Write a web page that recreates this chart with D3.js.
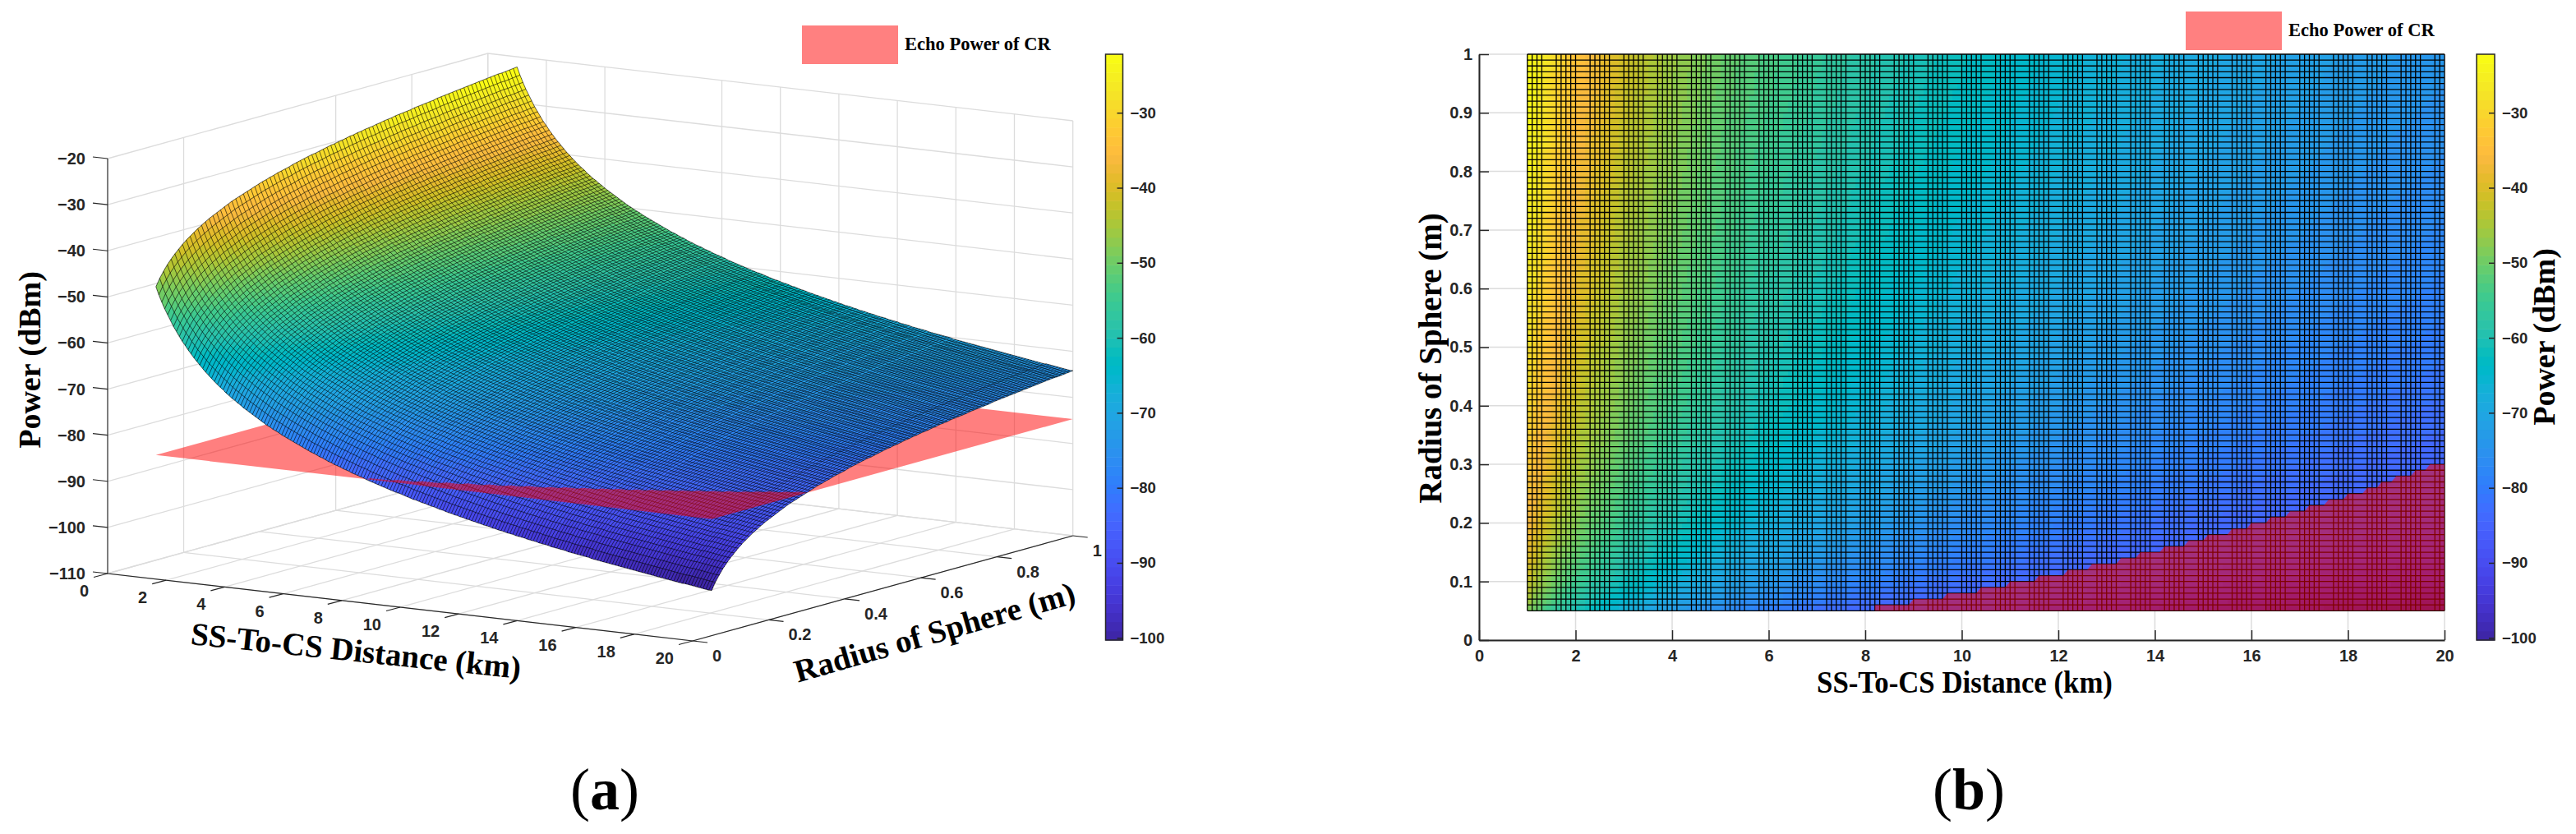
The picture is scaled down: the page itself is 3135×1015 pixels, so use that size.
<!DOCTYPE html>
<html>
<head>
<meta charset="utf-8">
<script src="https://cdn.jsdelivr.net/npm/d3@7"></script>
<style>
body { margin: 0; background: #fff; }
svg { display: block; }
.tick text, .lab { font-family: "Liberation Sans", Arial, sans-serif; font-weight: bold; fill: #262626; font-size: 20px; }
.bar .tick text { font-size: 18.5px; }
.ttl { font-family: "Liberation Serif", "Times New Roman", serif; font-weight: bold; fill: #000; }
</style>
</head>
<body>
<svg id="fig" width="3135" height="1015"></svg>
<script>
// power (dBm) at radius 1 m, read per mesh column: distance 1.0 km to 20.0 km, 0.1 km apart
var powerAtDistance = [
-22.2,-23.9,-25.4,-26.8,-28.0,-29.2,-30.4,-31.4,-32.4,-33.4,
-34.2,-35.1,-35.9,-36.7,-37.4,-38.1,-38.8,-39.5,-40.1,-40.7,
-41.3,-41.9,-42.4,-42.9,-43.5,-44.0,-44.5,-44.9,-45.4,-45.8,
-46.3,-46.7,-47.1,-47.5,-47.9,-48.3,-48.7,-49.1,-49.5,-49.8,
-50.2,-50.5,-50.8,-51.2,-51.5,-51.8,-52.1,-52.4,-52.7,-53.0,
-53.3,-53.6,-53.9,-54.2,-54.4,-54.7,-55.0,-55.2,-55.5,-55.8,
-56.0,-56.3,-56.5,-56.7,-57.0,-57.2,-57.4,-57.7,-57.9,-58.1,
-58.3,-58.5,-58.8,-59.0,-59.2,-59.4,-59.6,-59.8,-60.0,-60.2,
-60.4,-60.6,-60.8,-60.9,-61.1,-61.3,-61.5,-61.7,-61.9,-62.0,
-62.2,-62.4,-62.5,-62.7,-62.9,-63.0,-63.2,-63.4,-63.5,-63.7,
-63.9,-64.0,-64.2,-64.3,-64.5,-64.6,-64.8,-64.9,-65.1,-65.2,
-65.4,-65.5,-65.7,-65.8,-65.9,-66.1,-66.2,-66.4,-66.5,-66.6,
-66.8,-66.9,-67.0,-67.2,-67.3,-67.4,-67.5,-67.7,-67.8,-67.9,
-68.0,-68.2,-68.3,-68.4,-68.5,-68.7,-68.8,-68.9,-69.0,-69.1,
-69.2,-69.4,-69.5,-69.6,-69.7,-69.8,-69.9,-70.0,-70.1,-70.3,
-70.4,-70.5,-70.6,-70.7,-70.8,-70.9,-71.0,-71.1,-71.2,-71.3,
-71.4,-71.5,-71.6,-71.7,-71.8,-71.9,-72.0,-72.1,-72.2,-72.3,
-72.4,-72.5,-72.6,-72.7,-72.8,-72.9,-73.0,-73.1,-73.2,-73.3,
-73.4,-73.4,-73.5,-73.6,-73.7,-73.8,-73.9,-74.0,-74.1,-74.2,
-74.2];

// drop in power (dB) per mesh row: radius 0.05 m to 1.00 m, 0.01 m apart
var radiusDrop = [
-26.0,-24.4,-23.1,-21.9,-20.9,-20.0,-19.2,-18.4,-17.7,-17.1,
-16.5,-15.9,-15.4,-14.9,-14.4,-14.0,-13.6,-13.2,-12.8,-12.4,
-12.0,-11.7,-11.4,-11.1,-10.8,-10.5,-10.2,-9.9,-9.6,-9.4,
-9.1,-8.9,-8.6,-8.4,-8.2,-8.0,-7.7,-7.5,-7.3,-7.1,
-6.9,-6.7,-6.6,-6.4,-6.2,-6.0,-5.8,-5.7,-5.5,-5.4,
-5.2,-5.0,-4.9,-4.7,-4.6,-4.4,-4.3,-4.2,-4.0,-3.9,
-3.7,-3.6,-3.5,-3.3,-3.2,-3.1,-3.0,-2.9,-2.7,-2.6,
-2.5,-2.4,-2.3,-2.2,-2.0,-1.9,-1.8,-1.7,-1.6,-1.5,
-1.4,-1.3,-1.2,-1.1,-1.0,-0.9,-0.8,-0.7,-0.6,-0.5,
-0.4,-0.4,-0.3,-0.2,-0.1,0];

var echoPowerCR = -84.7; // the flat red plane

var distTicks = [0,2,4,6,8,10,12,14,16,18,20];
var radiusTicks = [0,0.2,0.4,0.6,0.8,1];
var radiusTicksB = [0,0.1,0.2,0.3,0.4,0.5,0.6,0.7,0.8,0.9,1];
var powerTicks = [-110,-100,-90,-80,-70,-60,-50,-40,-30,-20];
var barTicks = [-100,-90,-80,-70,-60,-50,-40,-30];
var colorRange = [-100.3,-22.2];

// parula, 64 steps
var parula = ["#3e26a8","#402aB4","#422EC0","#4532CB","#4537D5","#463CDE","#4741E5","#4747EB","#484DF0","#4752F4","#4758F8","#465DFB","#4563FD","#4269FE","#3E6FFF","#3875FE","#327BFC","#2F81FA","#2D87F7","#2D8CF3","#2B91EF","#2796EB","#259BE7","#23A0E5","#20A5E3","#1CA9DF","#18ADDB","#12B1D6","#08B5D0","#01B8CA","#02BAC3","#0BBDBC","#19BFB6","#24C1AE","#2CC3A7","#31C69F","#37C897","#3FCA8E","#4ACB84","#57CC7A","#64CD6F","#71CC64","#80CC59","#8FCA4E","#9DC943","#ABC739","#B8C431","#C5C22A","#D1BF27","#DCBD29","#E6BB2D","#EFBA36","#F8BA3D","#FEBE3C","#FEC338","#FEC934","#FCCF30","#F9D62D","#F7DC2A","#F5E327","#F5E924","#F6EF20","#F7F51B","#F9FB15"];

var rowRadii = radiusDrop.map(function(d, j){ return +(0.05 + j*0.01).toFixed(2); });
var colDists = powerAtDistance.map(function(d, i){ return +(1 + i*0.1).toFixed(1); });

var color = d3.scaleQuantize().domain(colorRange).range(parula);
var svg = d3.select("#fig");

function power(i, j){ return powerAtDistance[i] + radiusDrop[j]; }

// outline of the part of the plane that lies above the surface, as [dist, radius]
function planeAbove(){
    var pts = [];
    for(var i = 0; i<colDists.length; i++){
        var j = 0;
        while(j < rowRadii.length && power(i, j) < echoPowerCR) j++;
        if(j > 0) pts.push([colDists[i], rowRadii[j]]);
    }
    pts.unshift([pts[0][0], rowRadii[0]]);
    pts.push([colDists[colDists.length-1], rowRadii[0]]);
    return pts;
}

// draws filled cells and mesh through project(dist, radius, power)
function drawSurface(g, project, keepCol, meshWidth){
    var byColor = parula.map(function(){ return []; });
    for(var i = 0; i<colDists.length-1; i++){
        for(var j = 0; j<rowRadii.length-1; j++){
            var a = project(colDists[i], rowRadii[j], power(i,j)),
                b = project(colDists[i+1], rowRadii[j], power(i+1,j)),
                c = project(colDists[i+1], rowRadii[j+1], power(i+1,j+1)),
                e = project(colDists[i], rowRadii[j+1], power(i,j+1));
            var k = parula.indexOf(color(power(i,j)));
            byColor[k].push("M"+a[0].toFixed(1)+","+a[1].toFixed(1)+"L"+b[0].toFixed(1)+","+b[1].toFixed(1)+"L"+c[0].toFixed(1)+","+c[1].toFixed(1)+"L"+e[0].toFixed(1)+","+e[1].toFixed(1)+"Z");
        }
    }
    g.selectAll("path.cells").data(parula).enter().append("path")
        .attr("class", "cells")
        .attr("d", function(c, k){ return byColor[k].join(""); })
        .attr("fill", function(c){ return c; })
        .attr("shape-rendering", "crispEdges");

    var line = d3.line();
    var mesh = g.append("g").attr("fill", "none").attr("stroke", "#000").attr("stroke-width", meshWidth);
    colDists.forEach(function(d, i){
        if(!keepCol(i) && i != colDists.length-1) return;
        mesh.append("path").attr("d", line(rowRadii.map(function(r, j){ return project(d, r, power(i,j)); })));
    });
    rowRadii.forEach(function(r, j){
        mesh.append("path").attr("d", line(colDists.map(function(d, i){ return project(d, r, power(i,j)); })));
    });
}

function colorbar(x, width, y){
    var g = svg.append("g").attr("transform", "translate("+x+",0)");
    g.selectAll("rect").data(parula).enter().append("rect")
        .attr("x", 0).attr("width", width)
        .attr("y", function(c){ return y(color.invertExtent(c)[1]); })
        .attr("height", function(c){ var e = color.invertExtent(c); return y(e[0]) - y(e[1]) + 0.5; })
        .attr("fill", function(c){ return c; });
    g.append("rect").attr("width", width).attr("y", y.range()[1]).attr("height", y.range()[0]-y.range()[1])
        .attr("fill", "none").attr("stroke", "#262626").attr("stroke-width", 1.5);
    var ax = svg.append("g").attr("class", "bar").attr("transform", "translate("+(x+width)+",0)")
        .call(d3.axisRight(y).tickValues(barTicks).tickSizeInner(-7).tickSizeOuter(0).tickPadding(9)
            .tickFormat(function(d){ return "\u2212"+Math.abs(d); }));
    ax.select(".domain").remove();
    ax.selectAll("line").attr("stroke", "#262626").attr("stroke-width", 1.5);
}

function legend(x, y){
    svg.append("rect").attr("x", x).attr("y", y).attr("width", 117).attr("height", 47).attr("fill", "#ff8080");
    svg.append("text").attr("class", "ttl").attr("x", x+125).attr("y", y+30).attr("font-size", 22.5).text("Echo Power of CR");
}

function title(txt, x, y, size, rot, sx){
    svg.append("text").attr("class", "ttl").attr("text-anchor", "middle").attr("font-size", size)
        .attr("transform", "translate("+x+","+y+") rotate("+rot+") scale("+(sx || 1)+",1)").text(txt);
}

// ---------- panel (a) ----------
var dX = d3.scaleLinear().domain([0,20]).range([131,843]),
    dY = d3.scaleLinear().domain([0,20]).range([698,780]),
    rX = d3.scaleLinear().domain([0,1]).range([0,462.7]),
    rY = d3.scaleLinear().domain([0,1]).range([0,-128]),
    pY = d3.scaleLinear().domain([-110,-20]).range([0,-505]);

function proj(d, r, p){ return [dX(d)+rX(r), dY(d)+rY(r)+pY(p)]; }

var a = svg.append("g");
var gridLine = d3.line();
var pLow = powerTicks[0], pTop = powerTicks[powerTicks.length-1];
var grid = a.append("g").attr("fill", "none").attr("stroke", "#dcdcdc").attr("stroke-width", 1.3);

powerTicks.forEach(function(p){
    grid.append("path").attr("d", gridLine([proj(0,0,p), proj(0,1,p), proj(20,1,p)]));
});
radiusTicks.forEach(function(r){
    grid.append("path").attr("d", gridLine([proj(0,r,pLow), proj(20,r,pLow)]));
    // the r=0.4 wall line does not show in the reference
    if(r > 0 && r != 0.4) grid.append("path").attr("d", gridLine([proj(0,r,pLow), proj(0,r,pTop)]));
});
distTicks.forEach(function(d){
    grid.append("path").attr("d", gridLine([proj(d,0,pLow), proj(d,1,pLow)]));
    // same for d=6 on the back wall
    if(d != 6) grid.append("path").attr("d", gridLine([proj(d,1,pLow), proj(d,1,pTop)]));
});

// plane goes under the surface, the piece above it goes on top
var closedLine = d3.line().curve(d3.curveLinearClosed);
a.append("path")
    .attr("d", closedLine([proj(1,0.05,echoPowerCR), proj(20,0.05,echoPowerCR), proj(20,1,echoPowerCR), proj(1,1,echoPowerCR)]))
    .attr("fill", "#f00").attr("fill-opacity", 0.5);

drawSurface(a.append("g"), proj, function(){ return true; }, 0.6);

var above = planeAbove();
a.append("path")
    .attr("d", closedLine(above.map(function(q){ return proj(q[0], q[1], echoPowerCR); })))
    .attr("fill", "#f00").attr("fill-opacity", 0.5);

var box = a.append("g").attr("fill", "none").attr("stroke", "#262626").attr("stroke-width", 1.2);
box.append("path").attr("d", gridLine([proj(0,0,pTop), proj(0,0,pLow), proj(20,0,pLow), proj(20,1,pLow)]));
powerTicks.forEach(function(p){
    var q = proj(0,0,p);
    box.append("path").attr("d", gridLine([q, [q[0]-18, q[1]-2]]));
    a.append("text").attr("class", "lab").attr("text-anchor", "end").attr("x", q[0]-27).attr("y", q[1]+7)
        .text(p < 0 ? "\u2212"+Math.abs(p) : p);
});
distTicks.forEach(function(d){
    var q = proj(d,0,pLow);
    box.append("path").attr("d", gridLine([q, [q[0]-17, q[1]+4.5]]));
    a.append("text").attr("class", "lab").attr("text-anchor", "end").attr("x", q[0]-23).attr("y", q[1]+28).text(d);
});
radiusTicks.forEach(function(r){
    var q = proj(20,r,pLow);
    box.append("path").attr("d", gridLine([q, [q[0]+18, q[1]+2]]));
    a.append("text").attr("class", "lab").attr("x", q[0]+24).attr("y", q[1]+25).text(r);
});

title("Power (dBm)", 49, 438, 38, -90);
title("SS-To-CS Distance (km)", 432, 805, 39, 6);
title("Radius of Sphere (m)", 1141, 782, 39, -16);
legend(976, 31);

var barYa = d3.scaleLinear().domain(colorRange).range([779,66]);
colorbar(1345.5, 21, barYa);

// ---------- panel (b) ----------
var xB = d3.scaleLinear().domain([0,20]).range([1800,2975]),
    yB = d3.scaleLinear().domain([0,1]).range([779,66]);

function projB(d, r){ return [xB(d), yB(r)]; }

var b = svg.append("g");
var gridB = b.append("g").attr("stroke", "#dcdcdc").attr("stroke-width", 1.5);
distTicks.forEach(function(d){
    gridB.append("line").attr("x1", xB(d)).attr("x2", xB(d)).attr("y1", yB(0)).attr("y2", yB(1));
});
radiusTicksB.forEach(function(r){
    gridB.append("line").attr("x1", xB(0)).attr("x2", xB(20)).attr("y1", yB(r)).attr("y2", yB(r));
});

// every 7 lines two are lost in the reference raster
drawSurface(b.append("g"), projB, function(i){ return i%7 != 4 && i%7 != 5; }, 1.3);

var fmtB = function(d){ return String(d); };
var axB = b.append("g").attr("transform", "translate(0,779)")
    .call(d3.axisBottom(xB).tickValues(distTicks).tickSizeInner(-12).tickSizeOuter(0).tickPadding(12).tickFormat(fmtB));
var ayB = b.append("g").attr("transform", "translate(1800,0)")
    .call(d3.axisLeft(yB).tickValues(radiusTicksB).tickSizeInner(-12).tickSizeOuter(0).tickPadding(8).tickFormat(fmtB));
[axB, ayB].forEach(function(ax){
    ax.select(".domain").attr("stroke", "#262626").attr("stroke-width", 2);
    ax.selectAll("line").attr("stroke", "#262626").attr("stroke-width", 1.5);
});

b.append("path")
    .attr("d", closedLine(above.map(function(q){ return projB(q[0], q[1]); })))
    .attr("fill", "#f00").attr("fill-opacity", 0.5);

title("SS-To-CS Distance (km)", 2391, 843, 38, 0, 0.915);
title("Radius of Sphere (m)", 1754, 436, 39, -90);
title("Power (dBm)", 3109, 410, 38, -90);
legend(2660, 14);

var barYb = d3.scaleLinear().domain(colorRange).range([779,66]);
colorbar(3014, 22, barYb);

// ---------- captions ----------
function caption(letter, x){
    var t = svg.append("text").attr("class", "ttl").attr("text-anchor", "middle")
        .attr("x", x).attr("y", 985).attr("font-size", 72);
    t.append("tspan").attr("font-weight", "normal").text("(");
    t.append("tspan").text(letter);
    t.append("tspan").attr("font-weight", "normal").text(")");
}
caption("a", 736);
caption("b", 2396);
</script>
</body>
</html>
